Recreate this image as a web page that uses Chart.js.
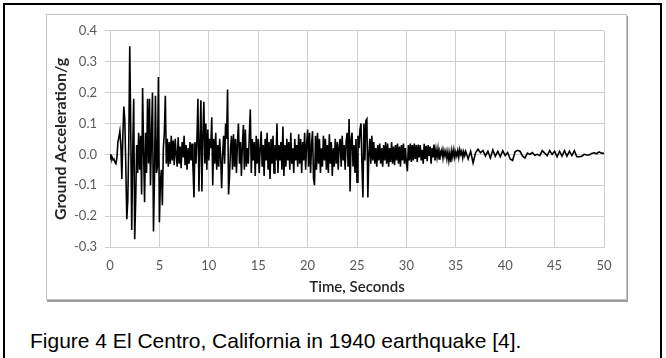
<!DOCTYPE html>
<html>
<head>
<meta charset="utf-8">
<script src="https://cdn.jsdelivr.net/npm/chart.js@4"></script>
<style>
    html, body { margin: 0; padding: 0; background: #fff; }
    body { width: 666px; height: 358px; position: relative; overflow: hidden; }
    .outer-box { position: absolute; left: 3px; top: 3px; width: 659px; height: 400px; border: 2px solid #000; box-sizing: border-box; }
    .chart-frame { position: absolute; left: 46px; top: 14px; width: 581px; height: 286px; border: 1px solid #c4c4c4; box-sizing: border-box; box-shadow: 1px 2px 0 #9a9a9a; background: #fff; }
    .chart-frame canvas { position: absolute; left: 0; top: 0; }
    .caption { position: absolute; left: 30px; top: 329px; font-family: "Liberation Sans", Arial, sans-serif; font-size: 21px; color: #000; white-space: nowrap; }
</style>
</head>
<body>
<div class="outer-box"></div>
<div class="chart-frame">
    <canvas id="elCentroChart" width="579" height="284"></canvas>
</div>
<div class="caption">Figure 4 El Centro, California in 1940 earthquake [4].</div>

<script>
// ground acceleration (g), sampled every 0.1 s from 0 to 36 s
var accelStep = 0.1;
var accelMain = [
    0.000, -0.012, -0.008, -0.018, -0.015, -0.025, -0.030, -0.012, 0.040, 0.055,
    0.075, 0.030, -0.080, 0.060, 0.155, 0.110, -0.040, -0.210, -0.150, 0.030,
    0.350, 0.080, -0.245, 0.010, 0.180, -0.275, -0.150, 0.030, -0.060, 0.070,
    -0.050, 0.060, -0.130, 0.215, 0.010, -0.155, 0.070, -0.060, 0.180, -0.030,
    0.180, -0.100, 0.060, 0.200, -0.250, -0.080, 0.190, -0.060, -0.040, 0.250,
    -0.220, -0.090, -0.050, -0.165, 0.020, 0.070, 0.190, -0.030, 0.050, -0.040,
    0.040, -0.030, 0.060, -0.020, 0.045, -0.035, 0.050, 0.000, -0.040, 0.055,
    -0.030, 0.025, -0.045, 0.040, -0.010, 0.060, -0.035, 0.030, -0.050, 0.020,
    -0.030, 0.040, -0.020, 0.035, -0.045, -0.140, 0.040, -0.030, 0.050, 0.180,
    -0.120, 0.030, 0.175, -0.120, 0.060, 0.170, -0.030, 0.100, -0.050, 0.080,
    -0.020, 0.050, 0.020, 0.120, -0.100, 0.050, -0.030, 0.070, -0.050, 0.030,
    -0.040, 0.050, -0.010, -0.110, 0.000, 0.060, -0.030, 0.100, 0.050, 0.210,
    -0.130, -0.070, 0.020, 0.060, -0.050, 0.065, -0.040, 0.050, -0.060, 0.040,
    0.100, -0.030, 0.040, -0.070, 0.030, 0.095, -0.050, 0.080, -0.040, 0.020,
    -0.030, 0.060, 0.145, -0.060, 0.050, -0.020, 0.040, -0.070, 0.060, -0.030,
    0.050, -0.060, 0.020, 0.075, -0.040, 0.030, -0.070, 0.050, -0.020, 0.070,
    -0.050, 0.040, -0.080, 0.050, -0.030, 0.060, -0.060, 0.030, -0.020, 0.100,
    -0.060, 0.030, -0.020, 0.040, -0.050, 0.090, -0.070, 0.030, -0.040, 0.050,
    -0.020, 0.040, -0.050, 0.070, -0.030, 0.020, -0.060, 0.050, -0.020, 0.030,
    -0.040, 0.065, -0.030, 0.050, -0.060, 0.040, -0.020, 0.070, -0.050, 0.030,
    0.080, -0.040, 0.070, -0.060, 0.030, 0.075, -0.080, -0.100, 0.060, -0.050,
    0.070, -0.030, 0.050, -0.060, 0.020, -0.040, 0.060, -0.020, 0.050, -0.050,
    0.030, -0.060, 0.065, -0.030, 0.040, -0.070, 0.020, -0.040, 0.050, -0.030,
    0.040, -0.050, 0.030, 0.050, -0.040, 0.060, -0.020, 0.030, -0.050, 0.040,
    0.070, -0.040, 0.114, -0.120, 0.050, 0.070, -0.040, 0.030, -0.060, 0.050,
    -0.090, 0.060, 0.020, 0.080, 0.100, -0.030, -0.140, 0.100, -0.020, 0.110,
    0.115, -0.140, 0.000, 0.050, -0.030, 0.060, -0.020, 0.040, -0.030, 0.020,
    -0.040, 0.030, -0.020, 0.035, -0.030, 0.020, -0.040, 0.030, -0.020, 0.040,
    -0.030, 0.035, -0.040, 0.020, -0.025, 0.040, -0.030, 0.025, -0.035, 0.030,
    -0.020, 0.035, -0.030, 0.025, -0.040, 0.030, -0.020, 0.035, -0.030, 0.020,
    -0.030, -0.055, 0.030, -0.020, 0.035, -0.025, 0.030, -0.020, 0.035, -0.015,
    0.030, -0.025, 0.032, -0.010, 0.030, -0.020, 0.015, -0.030, 0.034, -0.015,
    0.028, -0.022, 0.030, -0.005, 0.025, -0.030, 0.020, -0.010, 0.032, -0.020,
    0.015, -0.010, 0.018, -0.015, 0.010, 0.000, 0.015, -0.012, 0.012, -0.005,
    0.010, -0.015, 0.008, -0.020, 0.005, -0.025, 0.012, -0.008, 0.015, -0.010,
    0.008, -0.005, 0.012, -0.010, 0.015, 0.000, 0.010, -0.012, 0.008, -0.004,
    0.010
];

// coda after 36 s, sampled every 0.25 s up to 50 s
var tailStart = 36;
var tailStep = 0.25;
var accelTail = [
    -0.015, 0.010, -0.028, 0.005,
    0.017, 0.005, 0.012, -0.005,
    0.010, -0.012, 0.014, -0.006,
    0.010, -0.008, 0.012, -0.004,
    0.006, -0.015, -0.020, 0.008,
    0.013, 0.010, -0.005, -0.012,
    0.004, 0.000, 0.006, -0.003,
    0.000, -0.004, 0.012, 0.004,
    -0.004, 0.012, 0.000, 0.010,
    -0.008, 0.010, -0.006, 0.012,
    -0.006, 0.010, -0.004, 0.012,
    -0.008, -0.008, -0.006, 0.000,
    -0.002, -0.002, 0.003, 0.005,
    0.002, 0.008, 0.004, 0.003
];

var timeTicks = [0, 5, 10, 15, 20, 25, 30, 35, 40, 45, 50];
var accelTicks = [-0.3, -0.2, -0.1, 0.0, 0.1, 0.2, 0.3, 0.4];

function buildSeries() {
    var points = [];
    for (var i = 0; i < accelMain.length; i++) {
        points.push({ x: +(i * accelStep).toFixed(2), y: accelMain[i] });
    }
    for (var j = 0; j < accelTail.length; j++) {
        points.push({ x: +(tailStart + (j + 1) * tailStep).toFixed(2), y: accelTail[j] });
    }
    return points;
}

function initElCentroChart() {
    var gridColor = "#cfcfcf";
    var tickFont = { family: "Lato, 'Open Sans', sans-serif", size: 13 };

    var chartData = {
        datasets: [
            {
                label: "Ground Acceleration",
                data: buildSeries(),
                borderColor: "#000",
                borderWidth: 1.6,
                pointRadius: 0,
                tension: 0,
                fill: false
            }
        ]
    };

    var chartOptions = {
        responsive: false,
        animation: false,
        events: [],
        layout: { padding: { left: 0, top: 13, right: 22, bottom: 0 } },
        plugins: {
            legend: { display: false },
            tooltip: { enabled: false }
        },
        scales: {
            x: {
                type: "linear",
                min: timeTicks[0],
                max: timeTicks[timeTicks.length - 1],
                afterBuildTicks: function (scale) {
                    scale.ticks = timeTicks.map(function (v) { return { value: v }; });
                },
                afterFit: function (scale) { scale.height = 52; },
                grid: { color: gridColor, lineWidth: 1, drawTicks: false },
                border: { color: gridColor, width: 1 },
                ticks: { color: "#595959", font: tickFont, padding: 11, maxRotation: 0 },
                title: {
                    display: true,
                    text: "Time, Seconds",
                    color: "#262626",
                    font: { family: "Lato, 'Open Sans', sans-serif", size: 15, weight: "600" },
                    padding: { top: 0, bottom: 3 }
                }
            },
            y: {
                type: "linear",
                min: accelTicks[0],
                max: accelTicks[accelTicks.length - 1],
                afterBuildTicks: function (scale) {
                    scale.ticks = accelTicks.map(function (v) { return { value: v }; });
                },
                afterFit: function (scale) { scale.width = 63; },
                grid: { color: gridColor, lineWidth: 1, tickLength: 5 },
                border: { color: gridColor, width: 1 },
                ticks: {
                    color: "#595959",
                    font: tickFont,
                    padding: 8,
                    callback: function (value) { return value.toFixed(1); }
                },
                title: {
                    display: true,
                    text: "Ground Acceleration/g",
                    color: "#262626",
                    font: { family: "Lato, 'Open Sans', sans-serif", size: 16, weight: "bold" },
                    padding: { top: 4, bottom: 0 }
                }
            }
        }
    };

    var chartCanvas = document.getElementById("elCentroChart").getContext("2d");
    new Chart(chartCanvas, { type: "line", data: chartData, options: chartOptions });
}

initElCentroChart();
</script>
</body>
</html>
